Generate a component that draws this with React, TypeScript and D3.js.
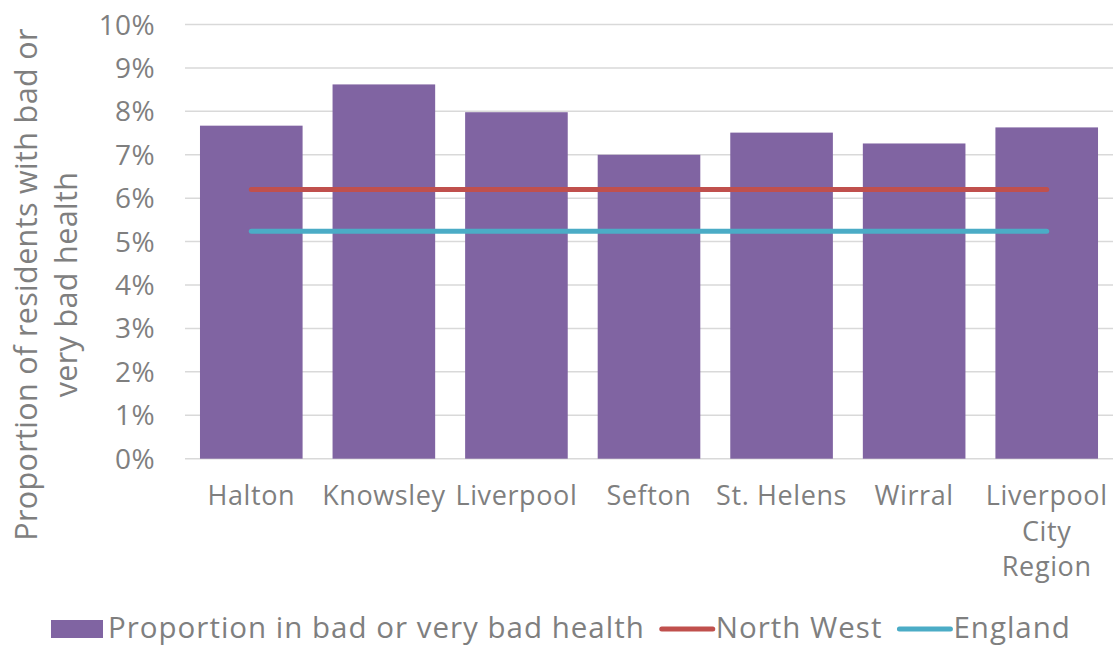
import React, { useEffect, useRef } from 'react';
import * as d3 from 'd3';

const areas = ['Halton', 'Knowsley', 'Liverpool', 'Sefton', 'St. Helens', 'Wirral', 'Liverpool City Region'];
const badHealth = [7.67, 8.62, 7.98, 7.0, 7.51, 7.26, 7.63];
const northWest = 6.2;
const england = 5.24;
const yTicks = [0, 1, 2, 3, 4, 5, 6, 7, 8, 9, 10];
const areaLines: Record<string, string[]> = {
  'Liverpool City Region': ['Liverpool', 'City', 'Region'],
};

const W = 1114;
const H = 648;
const FONT = '"Open Sans", Lato, sans-serif';
const GREY = '#7f7f7f';
const PURPLE = '#8064A2';
const RED = '#C0504D';
const BLUE = '#4BACC6';

export default function App() {
  const ref = useRef<SVGSVGElement>(null);

  useEffect(() => {
    const svg = d3.select(ref.current);
    svg.selectAll('*').remove();

    const left = 185, right = 1113, top = 24.5, bottom = 458.7;

    const x = d3.scaleBand().domain(areas).range([left, right]).paddingInner(0.226).paddingOuter(0.113);
    const y = d3.scaleLinear().domain([0, 10]).range([bottom, top]);

    // gridlines
    svg.selectAll('.grid')
      .data(yTicks)
      .enter()
      .append('line')
      .attr('x1', left)
      .attr('x2', right)
      .attr('y1', d => y(d))
      .attr('y2', d => y(d))
      .attr('stroke', '#d9d9d9')
      .attr('stroke-width', 1.5);

    // y tick labels
    svg.selectAll('.ytick')
      .data(yTicks)
      .enter()
      .append('text')
      .attr('x', 155)
      .attr('y', d => y(d) + 10)
      .attr('text-anchor', 'end')
      .attr('font-family', FONT)
      .attr('font-size', 28)
      .attr('letter-spacing', 0.4)
      .attr('fill', GREY)
      .text(d => d + '%');

    // bars
    svg.selectAll('.bar')
      .data(badHealth)
      .enter()
      .append('rect')
      .attr('x', (d, i) => x(areas[i])!)
      .attr('width', x.bandwidth())
      .attr('y', d => y(d))
      .attr('height', d => bottom - y(d))
      .attr('fill', PURPLE);

    // reference lines
    const cx = (a: string) => x(a)! + x.bandwidth() / 2;
    const refs = [
      { v: northWest, c: RED },
      { v: england, c: BLUE },
    ];
    svg.selectAll('.ref')
      .data(refs)
      .enter()
      .append('line')
      .attr('x1', cx(areas[0]))
      .attr('x2', cx(areas[areas.length - 1]))
      .attr('y1', d => y(d.v))
      .attr('y2', d => y(d.v))
      .attr('stroke', d => d.c)
      .attr('stroke-width', 5)
      .attr('stroke-linecap', 'round');

    // x labels
    areas.forEach(a => {
      const lines = areaLines[a] || [a];
      const t = svg.append('text')
        .attr('text-anchor', 'middle')
        .attr('font-family', FONT)
        .attr('font-size', 27)
        .attr('letter-spacing', 0.6)
        .attr('fill', GREY);
      lines.forEach((l, i) => {
        t.append('tspan').attr('x', cx(a)).attr('y', 505 + i * 35.5).text(l);
      });
    });

    // y axis title
    const yt = svg.append('text')
      .attr('transform', `translate(0, 284.5) rotate(-90)`)
      .attr('text-anchor', 'middle')
      .attr('font-family', FONT)
      .attr('font-size', 30.5)
      .attr('letter-spacing', 0.35)
      .attr('fill', GREY);
    yt.append('tspan').attr('x', 0).attr('y', 37).text('Proportion of residents with bad or');
    yt.append('tspan').attr('x', 0).attr('y', 77).text('very bad health');

    // legend
    const legend = [
      { label: 'Proportion in bad or very bad health', c: PURPLE, kind: 'rect' },
      { label: 'North West', c: RED, kind: 'line' },
      { label: 'England', c: BLUE, kind: 'line' },
    ];
    let lx = 51;
    const ly = 629;
    legend.forEach(item => {
      if (item.kind === 'rect') {
        svg.append('rect').attr('x', lx).attr('y', ly - 9).attr('width', 52).attr('height', 18).attr('fill', item.c);
      } else {
        svg.append('line').attr('x1', lx + 3).attr('x2', lx + 54).attr('y1', ly).attr('y2', ly)
          .attr('stroke', item.c).attr('stroke-width', 5).attr('stroke-linecap', 'round');
      }
      const t = svg.append('text')
        .attr('x', lx + 57)
        .attr('y', 638)
        .attr('font-family', FONT)
        .attr('font-size', 29.5)
        .attr('letter-spacing', 1)
        .attr('fill', GREY)
        .text(item.label);
      const w = (t.node() as SVGTextElement).getComputedTextLength();
      lx = lx + 57 + w + 14;
    });
  }, []);

  return (
    <svg ref={ref} width={W} height={H} viewBox={`0 0 ${W} ${H}`}
      style={{ position: 'absolute', left: 0, top: 0, background: '#fff' }} />
  );
}
